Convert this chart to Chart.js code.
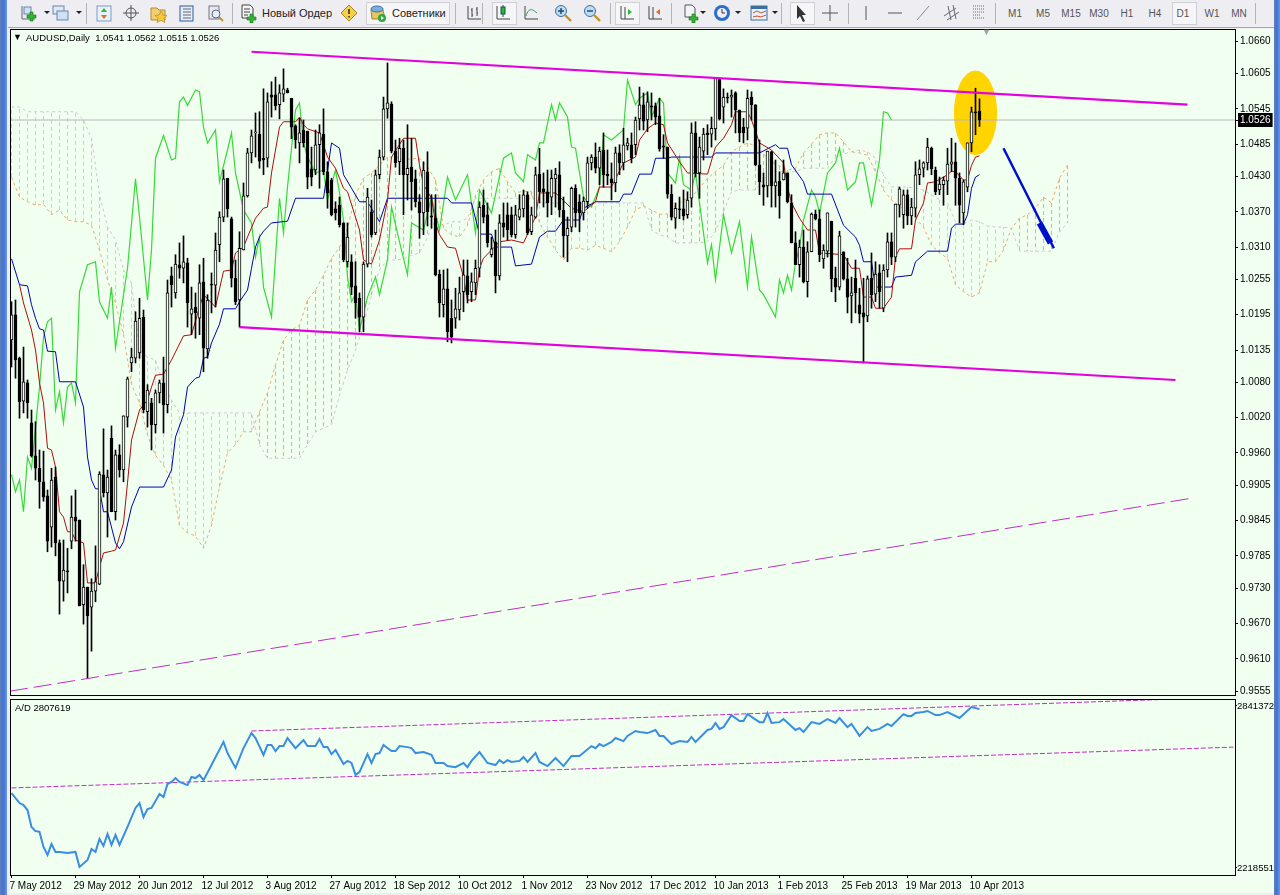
<!DOCTYPE html>
<html>
<head>
<meta charset="utf-8">
<title>AUDUSD,Daily</title>
<script src="https://cdn.jsdelivr.net/npm/chart.js@4/dist/chart.umd.min.js"></script>
<style>
  html, body { margin: 0; padding: 0; width: 1280px; height: 895px; overflow: hidden; background: #eeeef0; font-family: "Liberation Sans", sans-serif; }
  #toolbar { position: absolute; left: 8px; top: 0; width: 1266px; height: 27px; background: #eeeef2; border-bottom: 1px solid #a8a8a8; }
  .strip { position: absolute; top: 0; height: 895px; background: linear-gradient(90deg, #5f7fb5, #3f74d6 50%, #6d96e4); }
  #paper { position: absolute; left: 10px; top: 29px; width: 1264px; height: 864px; background: #f0fff0; }
  canvas { position: absolute; left: 0; }
  .label { position: absolute; font-size: 9.5px; color: #000; white-space: pre; z-index: 5; }
  .tool { position: absolute; top: 4px; }
  .sep { position: absolute; top: 3px; width: 1px; height: 21px; background: #b4b4b8; }
  .txt { position: absolute; top: 7px; font-size: 11px; color: #222; white-space: pre; }
  .tf { position: absolute; top: 8px; font-size: 10px; color: #555; white-space: pre; transform: translateX(-50%); }
  .pressed { position: absolute; top: 2px; height: 23px; background: #f6f6f8; border: 1px solid #d0d0d4; box-sizing: border-box; }
</style>
</head>
<body>
<div class="strip" style="left:0;width:7px"></div>
<div class="strip" style="left:1274px;width:6px"></div>
<div id="toolbar"></div>
<div id="paper"></div>
<canvas id="priceChart" width="1280" height="697" style="top:0;width:1280px;height:697px"></canvas>
<canvas id="adChart" width="1280" height="198" style="top:697px;width:1280px;height:198px"></canvas>
<div class="label" style="left:13px;top:32px;font-size:9px">▼</div>
<div class="label" style="left:26px;top:32px">AUDUSD,Daily  1.0541 1.0562 1.0515 1.0526</div>
<div class="label" style="left:15px;top:702px">A/D 2807619</div>
<div class="label" style="left:982px;top:27px;color:#a0a0a0;font-size:9px">▼</div>
<script>
// prices are in 1/10000 (10526 = 1.0526)
const priceTickLabels = ['1.0660', '1.0605', '1.0545', '1.0485', '1.0430', '1.0370', '1.0310', '1.0255', '1.0195', '1.0135', '1.0080', '1.0020', '0.9960', '0.9905', '0.9845', '0.9785', '0.9730', '0.9670', '0.9610', '0.9555'];
const lastPrice = 10526;
const dateLabels = ['7 May 2012', '29 May 2012', '20 Jun 2012', '12 Jul 2012', '3 Aug 2012', '27 Aug 2012', '18 Sep 2012', '10 Oct 2012', '1 Nov 2012', '23 Nov 2012', '17 Dec 2012', '10 Jan 2013', '1 Feb 2013', '25 Feb 2013', '19 Mar 2013', '10 Apr 2013'];
const adTicks = [2841372, 2218551];

const candleOpen = [10152,10195,10121,10048,10079,10011,9955,9934,9911,9887,
  9834,9919,9807,9742,9759,9810,9851,9846,9702,9732,
  9698,9725,9737,9923,9892,9985,9860,9957,9931,10021,
  10113,10121,10130,10191,10030,10045,10008,10062,10079,10042,
  10261,10232,10280,10274,10283,10196,10208,10189,10251,10137,
  10247,10245,10314,10361,10427,10358,10257,10220,10305,10397,
  10470,10504,10502,10461,10461,10569,10569,10552,10570,10577,
  10563,10516,10487,10509,10507,10443,10441,10484,10502,10438,
  10424,10375,10381,10351,10285,10285,10244,10223,10191,10281,
  10370,10334,10433,10463,10545,10553,10473,10455,10478,10433,
  10446,10426,10387,10368,10438,10363,10359,10264,10212,10239,
  10189,10189,10203,10234,10261,10234,10249,10274,10381,10365,
  10297,10319,10261,10351,10365,10365,10331,10361,10375,10399,
  10336,10361,10434,10409,10404,10395,10426,10433,10373,10329,
  10344,10410,10387,10368,10387,10453,10463,10444,10475,10434,
  10426,10419,10470,10453,10482,10484,10484,10528,10552,10526,
  10550,10550,10533,10482,10480,10400,10359,10375,10375,10365,
  10393,10504,10436,10473,10504,10502,10511,10597,10548,10565,
  10565,10572,10543,10514,10512,10565,10552,10450,10416,10414,
  10472,10414,10422,10424,10436,10385,10317,10280,10310,10251,
  10302,10366,10358,10290,10303,10354,10257,10242,10302,10256,
  10227,10257,10212,10198,10193,10257,10230,10266,10206,10271,
  10319,10293,10381,10365,10399,10363,10376,10433,10444,10453,
  10478,10441,10407,10416,10422,10451,10455,10427,10368,10412,
  10487,10540,10541];
const candleHigh = [10217,10220,10123,10140,10084,10033,10013,9965,9963,9897,
  9934,9936,9812,9812,9798,9887,9897,9846,9770,9732,
  9746,9802,9928,10001,9931,10006,9965,9974,10023,10089,
  10138,10200,10223,10203,10076,10053,10067,10084,10123,10254,
  10276,10297,10317,10329,10291,10242,10232,10280,10291,10229,
  10266,10334,10370,10441,10427,10361,10288,10336,10419,10478,
  10509,10538,10540,10579,10572,10591,10599,10586,10613,10580,
  10563,10518,10529,10526,10507,10480,10509,10518,10545,10455,
  10427,10387,10395,10351,10351,10297,10285,10232,10285,10410,
  10390,10441,10475,10565,10623,10557,10492,10495,10492,10518,
  10495,10441,10399,10455,10472,10399,10399,10271,10271,10273,
  10220,10240,10259,10288,10288,10266,10288,10387,10407,10385,
  10327,10339,10365,10385,10385,10378,10381,10399,10407,10404,
  10378,10446,10478,10436,10441,10441,10444,10455,10395,10361,
  10412,10416,10399,10395,10463,10467,10487,10480,10504,10475,
  10453,10480,10484,10512,10495,10504,10531,10582,10572,10574,
  10572,10555,10563,10501,10480,10416,10385,10395,10407,10404,
  10521,10523,10497,10512,10518,10531,10597,10597,10579,10572,
  10577,10574,10543,10529,10577,10574,10552,10492,10436,10473,
  10473,10458,10438,10458,10436,10399,10336,10322,10339,10319,
  10368,10373,10373,10314,10368,10354,10276,10337,10302,10291,
  10259,10288,10240,10257,10261,10300,10285,10280,10280,10334,
  10334,10383,10412,10407,10407,10393,10455,10458,10455,10495,
  10480,10446,10429,10429,10478,10495,10487,10436,10424,10487,
  10548,10580,10562];
const candleLow = [10106,10087,10019,10028,10019,9953,9914,9866,9878,9792,
  9800,9785,9686,9708,9722,9797,9810,9700,9669,9577,
  9623,9707,9736,9885,9817,9860,9846,9919,9911,10004,
  10098,10113,10121,10028,10004,9965,9994,10045,9994,10028,
  10208,10223,10257,10249,10174,10161,10155,10161,10098,10121,
  10198,10208,10285,10353,10361,10242,10212,10174,10305,10395,
  10453,10463,10444,10433,10446,10531,10543,10528,10557,10572,
  10494,10478,10453,10480,10409,10414,10433,10410,10433,10376,
  10363,10356,10344,10285,10276,10229,10189,10166,10166,10276,
  10327,10331,10426,10458,10529,10470,10446,10433,10365,10390,
  10373,10378,10325,10331,10346,10342,10261,10191,10191,10149,
  10147,10172,10186,10200,10215,10217,10229,10259,10351,10310,
  10293,10232,10254,10327,10322,10327,10325,10356,10361,10331,
  10331,10359,10385,10378,10361,10365,10378,10361,10293,10285,
  10336,10344,10336,10356,10376,10441,10436,10416,10412,10416,
  10390,10404,10433,10441,10475,10453,10467,10509,10509,10506,
  10526,10518,10473,10461,10393,10356,10342,10358,10356,10359,
  10378,10429,10393,10458,10467,10480,10492,10526,10521,10555,
  10531,10504,10489,10487,10492,10526,10448,10399,10381,10395,
  10378,10378,10359,10424,10385,10317,10280,10259,10249,10225,
  10302,10356,10285,10274,10293,10234,10217,10237,10254,10198,
  10181,10198,10181,10113,10183,10206,10217,10206,10200,10259,
  10280,10285,10361,10342,10348,10348,10361,10416,10429,10441,
  10433,10399,10399,10381,10399,10438,10381,10351,10348,10404,
  10472,10501,10515];
const candleClose = [10195,10118,10047,10081,10045,9955,9934,9911,9885,9810,
  9914,9807,9742,9761,9758,9851,9844,9700,9732,9683,
  9725,9741,9924,9892,9919,9860,9957,9931,10023,10086,
  10123,10184,10189,10033,10067,10008,10062,10079,10042,10232,
  10246,10281,10274,10285,10215,10205,10198,10249,10138,10220,
  10245,10305,10361,10426,10375,10257,10217,10308,10397,10470,
  10499,10506,10456,10458,10557,10565,10550,10572,10579,10572,
  10514,10492,10504,10487,10429,10429,10484,10504,10438,10402,
  10365,10368,10348,10288,10327,10242,10215,10191,10281,10395,
  10331,10433,10463,10545,10555,10473,10453,10478,10433,10444,
  10421,10387,10368,10441,10370,10361,10263,10215,10239,10166,
  10157,10205,10232,10263,10229,10251,10274,10378,10361,10317,
  10307,10261,10351,10344,10339,10331,10365,10375,10399,10334,
  10365,10433,10404,10404,10385,10427,10434,10373,10329,10342,
  10410,10368,10368,10388,10453,10463,10444,10473,10433,10431,
  10419,10470,10453,10484,10487,10461,10526,10552,10524,10557,
  10548,10531,10477,10480,10400,10361,10376,10373,10363,10390,
  10504,10436,10480,10502,10501,10512,10597,10528,10565,10563,
  10568,10543,10504,10504,10563,10552,10450,10421,10412,10473,
  10414,10421,10397,10436,10387,10317,10280,10310,10251,10302,
  10366,10358,10297,10305,10368,10256,10242,10329,10256,10225,
  10232,10232,10196,10191,10256,10229,10264,10234,10271,10319,
  10293,10383,10409,10399,10363,10378,10433,10443,10453,10480,
  10443,10404,10417,10424,10451,10455,10427,10381,10421,10487,
  10540,10538,10526];

// blue line
const kijunBars = [0,2,4,5,6,7,8,9,11,12,16,18,19,20,21,22,23,24,26,27,28,30,32,38,40,41,43,44,46,47,48,49,50,52,53,56,57,59,60,61,62,63,65,69,71,78,80,82,83,85,87,89,92,94,109,110,115,117,120,121,125,126,130,132,134,136,138,142,143,146,152,153,155,157,160,161,164,165,175,176,187,191,192,194,195,198,199,205,208,211,212,213,215,216,220,221,225,226,229,234,235,236,238,239,240,241,242];
const kijunValues = [10290,10246,10244,10212,10189,10171,10169,10133,10132,10081,10081,10038,9953,9914,9899,9899,9860,9860,9807,9797,9809,9868,9902,9902,9931,9987,10025,10072,10087,10089,10121,10123,10147,10179,10205,10205,10217,10237,10274,10310,10327,10337,10351,10354,10393,10393,10487,10478,10433,10410,10387,10387,10353,10393,10393,10385,10385,10332,10332,10310,10310,10278,10281,10327,10337,10337,10356,10356,10376,10387,10387,10400,10400,10434,10434,10461,10461,10463,10463,10470,10470,10484,10478,10478,10450,10421,10400,10400,10347,10327,10313,10285,10285,10242,10242,10259,10262,10285,10303,10303,10342,10349,10349,10365,10410,10429,10433];
// red line
const tenkanBars = [2,3,5,6,7,8,9,10,11,12,13,14,15,16,18,19,21,22,23,25,26,28,29,30,32,34,35,36,38,40,43,45,47,48,51,53,55,56,58,59,61,63,64,65,67,68,71,72,73,74,77,79,81,83,84,87,88,90,92,94,95,98,101,102,103,105,106,107,109,111,113,114,116,117,118,120,122,125,128,130,131,132,136,140,143,146,147,150,153,156,157,159,161,163,164,167,169,174,176,178,180,181,184,185,187,190,193,194,195,197,199,201,202,208,210,212,213,215,216,218,220,221,222,225,226,228,229,231,234,235,236,238,239,240,241,242];
const tenkanValues = [10246,10215,10169,10135,10079,10045,9968,9965,9936,9860,9851,9826,9826,9812,9807,9739,9739,9766,9790,9793,9795,9841,9909,9982,10033,10050,10072,10092,10094,10118,10159,10161,10208,10229,10208,10269,10271,10300,10310,10327,10359,10376,10378,10436,10514,10523,10523,10531,10518,10511,10504,10463,10444,10410,10404,10339,10288,10281,10322,10390,10463,10495,10495,10449,10416,10393,10351,10331,10310,10308,10259,10220,10220,10274,10291,10305,10319,10322,10317,10347,10361,10402,10402,10376,10370,10387,10412,10412,10453,10463,10492,10511,10521,10518,10487,10455,10436,10434,10480,10495,10518,10540,10540,10526,10487,10475,10453,10412,10385,10359,10339,10339,10300,10297,10274,10274,10225,10225,10206,10206,10225,10293,10307,10307,10356,10385,10419,10421,10433,10439,10438,10424,10424,10449,10463,10465];
// green line
const chikouBars = [0,1,2,3,4,5,7,8,9,10,11,12,13,14,15,16,17,19,21,22,24,25,26,29,31,32,34,35,36,38,40,41,42,43,44,46,47,48,49,51,52,54,55,56,58,60,61,62,63,65,67,68,69,71,72,73,74,76,78,79,81,82,83,84,85,86,87,89,91,92,94,95,97,99,100,103,105,107,109,111,114,116,117,120,123,125,126,128,129,131,132,133,135,136,137,139,140,141,143,145,147,148,150,153,154,156,157,159,160,162,163,164,166,167,168,170,171,173,174,175,176,178,180,182,184,185,187,188,191,192,193,194,195,196,197,198,200,201,202,204,206,207,209,211,212,213,215,217,218,219,220];
const chikouValues = [9923,9894,9914,9860,9953,9934,10072,10157,10183,10189,10033,10064,10011,10072,10079,10045,10234,10280,10285,10217,10189,10242,10138,10274,10426,10361,10220,10305,10461,10500,10458,10461,10557,10565,10551,10577,10574,10514,10487,10509,10421,10475,10504,10436,10373,10351,10293,10327,10242,10191,10393,10334,10412,10543,10555,10487,10463,10436,10441,10390,10441,10402,10356,10259,10217,10229,10169,10225,10259,10229,10288,10378,10319,10263,10351,10339,10395,10339,10429,10390,10433,10334,10407,10368,10461,10470,10436,10421,10467,10458,10487,10487,10552,10526,10555,10531,10480,10478,10395,10378,10412,10501,10492,10509,10594,10552,10563,10572,10531,10563,10555,10436,10419,10463,10416,10407,10436,10334,10283,10314,10254,10365,10300,10353,10242,10327,10237,10229,10191,10254,10232,10262,10237,10283,10310,10356,10407,10395,10368,10436,10453,10478,10407,10421,10453,10453,10381,10458,10540,10538,10526];

// cloud edges, one reading per two bars, first bar = 0
const senkouA = [10429,10395,10387,10381,10383,10365,10373,10356,10353,10353,
  10347,10305,10254,10215,10161,10076,10045,9990,9956,9939,
  9914,9837,9824,9819,9798,9837,9902,9960,9974,9996,
  9996,10030,10062,10110,10152,10169,10177,10220,10237,10262,
  10291,10310,10342,10398,10427,10436,10449,10463,10463,10458,
  10460,10461,10446,10424,10342,10331,10327,10347,10398,10424,
  10438,10444,10421,10402,10405,10404,10351,10327,10305,10288,
  10308,10308,10305,10313,10308,10302,10319,10344,10373,10380,
  10373,10366,10366,10381,10390,10395,10410,10427,10438,10449,
  10472,10480,10487,10482,10468,10455,10448,10441,10444,10470,
  10485,10501,10504,10504,10489,10472,10470,10466,10438,10407,
  10390,10380,10370,10359,10344,10313,10300,10291,10246,10234,
  10225,10232,10285,10285,10305,10342,10359,10365,10376,10395,10385,10427,10449];
const senkouB = [10548,10548,10540,10540,10540,10540,10540,10540,10540,10526,
  10495,10399,10344,10322,10271,10249,10135,10123,10118,10077,
  10050,10028,10028,10028,10028,10028,10028,10028,10028,10028,
  10028,9974,9951,9951,9951,9951,9951,9974,9996,10002,
  10008,10058,10101,10135,10177,10228,10271,10288,10288,10290,
  10296,10300,10327,10356,10347,10353,10353,10359,10393,10393,
  10393,10393,10393,10393,10393,10393,10385,10385,10385,10385,
  10385,10385,10385,10385,10385,10385,10385,10385,10385,10385,
  10339,10331,10327,10317,10317,10317,10317,10319,10336,10370,
  10404,10407,10407,10407,10424,10438,10439,10438,10438,10444,
  10444,10444,10444,10463,10468,10472,10475,10472,10461,10433,
  10412,10412,10412,10410,10407,10399,10390,10385,10353,10349,
  10356,10353,10346,10344,10344,10342,10303,10303,10303,10303,10303,10336,10351];

// hand-drawn objects: bars and prices of their end points
const upperChannelBars = [60, 294], upperChannelValues = [10642, 10552];
const lowerChannelBars = [57, 291], lowerChannelValues = [10174, 10084];
const supportBars = [-0.375, 295], supportValues = [9555, 9883];
const arrowBars = [248, 260.6], arrowValues = [10478, 10308];
const arrowHeadBars = [257, 259.75], arrowHeadValues = [10351, 10317];
const ellipseBar = 241, ellipseValue = 10538, ellipseBarRadius = 5.4, ellipsePriceRadius = 72;

// A/D in thousands
const adBars = [0,2,3,4,5,6,7,8,9,10,11,12,14,16,17,19,20,21,22,23,24,25,26,27,29,31,32,33,34,35,37,38,39,40,41,42,44,45,46,47,48,50,53,54,56,58,60,61,63,64,65,66,67,68,69,71,73,74,76,77,78,79,80,81,83,84,85,86,87,89,90,91,92,93,95,96,97,99,100,101,103,105,106,108,109,111,113,114,115,117,119,121,122,123,124,125,127,128,129,131,132,134,136,138,140,142,145,146,147,148,150,151,153,154,156,157,159,161,162,163,165,167,169,170,171,174,175,176,177,178,180,182,183,184,187,188,189,190,192,193,196,197,198,200,202,204,206,207,209,210,212,214,215,217,219,220,223,224,225,226,228,229,231,232,234,237,240,242];
const adValues = [2506,2468,2460,2441,2376,2360,2357,2299,2268,2310,2280,2280,2276,2280,2222,2249,2291,2280,2330,2303,2349,2307,2345,2307,2376,2449,2468,2414,2445,2449,2503,2491,2541,2549,2564,2549,2537,2568,2564,2576,2556,2614,2703,2660,2603,2679,2737,2718,2653,2691,2691,2668,2687,2687,2718,2679,2710,2687,2687,2714,2683,2683,2656,2672,2618,2630,2622,2576,2587,2656,2622,2656,2660,2691,2668,2668,2687,2683,2679,2660,2664,2653,2622,2622,2610,2606,2622,2606,2630,2664,2622,2614,2633,2622,2633,2626,2630,2645,2626,2660,2626,2610,2641,2610,2649,2649,2687,2679,2695,2687,2703,2718,2706,2726,2745,2741,2737,2749,2726,2726,2695,2706,2703,2722,2703,2749,2753,2776,2753,2760,2806,2783,2783,2810,2779,2779,2814,2776,2779,2791,2749,2756,2741,2779,2772,2791,2776,2795,2760,2772,2726,2760,2745,2753,2772,2764,2810,2803,2803,2814,2818,2822,2806,2806,2818,2795,2837,2829];
const adUpperBars = [60, 291], adUpperValues = [2745, 2868];
const adLowerBars = [0, 305.5], adLowerValues = [2526, 2683];

const BG = '#f0fff0';
const FONT = { family: '"Liberation Sans", sans-serif', size: 10 };
const X_MIN = -0.375, X_MAX = 305.875;

function pairs(bars, values, k = 1) {
  return bars.map((b, i) => ({ x: b, y: values[i] * k }));
}

function lineSet(data, color, width, order, dash) {
  return { type: 'line', data, borderColor: color, backgroundColor: color, borderWidth: width, borderDash: dash || [], pointRadius: 0, tension: 0, order, spanGaps: false };
}

// keep the plot rectangle exact: no room reserved for overhanging tick labels
function noOverhang(s) {
  s.paddingTop = 0;
  s.paddingBottom = 0;
  s.paddingLeft = 0;
  s.paddingRight = 0;
}

// vertical dotted columns between the two cloud edges, every second bar
function cloudColumns(wanted) {
  const pts = [];
  senkouA.forEach((a, k) => {
    const b = senkouB[k];
    if ((a > b) === wanted) {
      pts.push({ x: k * 2, y: a }, { x: k * 2, y: b }, { x: k * 2, y: null });
    }
  });
  return pts;
}

const wicks = candleHigh.map((h, i) => ({ x: i, y: [candleLow[i], h] }));
const bodies = candleOpen.map((o, i) => ({ x: i, y: [o, candleClose[i]] }));
const bodyFill = candleOpen.map((o, i) => (candleClose[i] >= o ? BG : '#000'));
const edgeBars = senkouA.map((_, k) => k * 2);

const ellipsePlugin = {
  id: 'ellipse',
  beforeDatasetsDraw(chart) {
    const { x, y } = chart.scales;
    const c = chart.ctx;
    c.save();
    c.fillStyle = '#ffd400';
    c.beginPath();
    c.ellipse(x.getPixelForValue(ellipseBar), y.getPixelForValue(ellipseValue),
      x.getPixelForValue(ellipseBar + ellipseBarRadius) - x.getPixelForValue(ellipseBar),
      y.getPixelForValue(ellipseValue - ellipsePriceRadius) - y.getPixelForValue(ellipseValue),
      0, 0, Math.PI * 2);
    c.fill();
    c.restore();
  },
};

const framePlugin = {
  id: 'frame',
  afterDraw(chart) {
    const a = chart.chartArea, c = chart.ctx;
    c.save();
    c.strokeStyle = '#000';
    c.lineWidth = 1;
    c.strokeRect(a.left + 0.5, a.top + 0.5, a.right - a.left, a.bottom - a.top);
    c.restore();
  },
};

new Chart(document.getElementById('priceChart'), {
  type: 'bar',
  data: {
    datasets: [
      lineSet(cloudColumns(true), '#eab27a', 1.1, 50, [4, 3]),
      lineSet(cloudColumns(false), '#d6cad6', 1.1, 50, [4, 3]),
      lineSet(pairs(edgeBars, senkouA), '#e8ac72', 1, 49, [3, 3]),
      lineSet(pairs(edgeBars, senkouB), '#d2c6d2', 1, 49, [3, 3]),
      lineSet([{ x: X_MIN, y: lastPrice }, { x: X_MAX, y: lastPrice }], '#b8b8b8', 1, 48),
      lineSet(pairs(chikouBars, chikouValues), '#38d838', 1.2, 40),
      lineSet(pairs(kijunBars, kijunValues), '#0000b0', 1, 39),
      lineSet(pairs(tenkanBars, tenkanValues), '#b00c0c', 1, 38),
      { type: 'bar', data: wicks, grouped: false, barThickness: 1, backgroundColor: '#000', order: 20 },
      { type: 'bar', data: bodies, grouped: false, barThickness: 3, minBarLength: 1, backgroundColor: bodyFill, borderColor: '#000', borderWidth: 1, borderSkipped: false, order: 19 },
      lineSet(pairs(supportBars, supportValues), '#c42cc8', 1, 5, [18, 6]),
      lineSet(pairs(upperChannelBars, upperChannelValues), '#e400e0', 2.2, 4),
      lineSet(pairs(lowerChannelBars, lowerChannelValues), '#e400e0', 2.2, 4),
      lineSet(pairs(arrowBars, arrowValues), '#0010c8', 2.5, 3),
      lineSet(pairs(arrowHeadBars, arrowHeadValues), '#0010c8', 6, 3),
    ],
  },
  options: {
    responsive: false,
    animation: false,
    devicePixelRatio: 1,
    layout: { padding: { left: 10, top: 29, bottom: 2, right: 0 } },
    plugins: { legend: { display: false }, tooltip: { enabled: false } },
    scales: {
      x: { type: 'linear', min: X_MIN, max: X_MAX, display: false, offset: false, afterFit: noOverhang },
      y: {
        position: 'right',
        min: 9548.5,
        max: 10680.7,
        border: { display: false },
        grid: { drawOnChartArea: false, tickLength: 3, color: '#000' },
        afterFit(s) { s.width = 45; noOverhang(s); },
        afterBuildTicks(s) {
          s.ticks = priceTickLabels.map((t) => ({ value: Math.round(Number(t) * 10000) })).concat({ value: lastPrice });
        },
        ticks: {
          autoSkip: false,
          padding: 2,
          font: FONT,
          callback: (v) => (v / 10000).toFixed(4),
          color: (ctx) => (ctx.tick && ctx.tick.value === lastPrice ? '#fff' : '#000'),
          showLabelBackdrop: (ctx) => !!(ctx.tick && ctx.tick.value === lastPrice),
          backdropColor: '#000',
          backdropPadding: { x: 2, y: 1 },
        },
      },
    },
  },
  plugins: [ellipsePlugin, framePlugin],
});

new Chart(document.getElementById('adChart'), {
  type: 'line',
  data: {
    datasets: [
      lineSet(pairs(adUpperBars, adUpperValues, 1000), '#c42cc8', 1, 5, [5, 2]),
      lineSet(pairs(adLowerBars, adLowerValues, 1000), '#c42cc8', 1, 5, [5, 2]),
      lineSet(pairs(adBars, adValues, 1000), '#3a8ee0', 2, 1),
    ],
  },
  options: {
    responsive: false,
    animation: false,
    devicePixelRatio: 1,
    layout: { padding: { left: 10, top: 2, bottom: 0, right: 0 } },
    plugins: { legend: { display: false }, tooltip: { enabled: false } },
    scales: {
      x: {
        type: 'linear',
        min: X_MIN,
        max: X_MAX,
        border: { display: false },
        grid: { drawOnChartArea: false, tickLength: 3, color: '#000' },
        afterFit(s) { s.height = 20; noOverhang(s); },
        afterBuildTicks(s) { s.ticks = dateLabels.map((_, i) => ({ value: i * 16 })); },
        ticks: {
          autoSkip: false,
          maxRotation: 0,
          align: 'start',
          labelOffset: -2,
          padding: 2,
          font: FONT,
          color: '#000',
          callback: (v) => dateLabels[v / 16],
        },
      },
      y: {
        position: 'right',
        min: 2191200,
        max: 2868000,
        border: { display: false },
        grid: { drawOnChartArea: false, tickLength: 2, color: '#000' },
        afterFit(s) { s.width = 45; noOverhang(s); },
        afterBuildTicks(s) { s.ticks = adTicks.map((v) => ({ value: v })); },
        ticks: { autoSkip: false, padding: 0, font: { family: FONT.family, size: 9.5 }, color: '#000', callback: (v) => String(v) },
      },
    },
  },
  plugins: [framePlugin],
});

// toolbar
const toolbar = document.getElementById('toolbar');
const icons = {
  chartPlus: '<path d="M3 2v13h13" fill="none" stroke="#667"/><rect x="5" y="3" width="7" height="7" fill="#cfe0f4" stroke="#68a"/><path d="M11 8h3v3h3v3h-3v3h-3v-3H8v-3h3z" fill="#2fb82f" stroke="#176f17" stroke-width=".6"/>',
  charts: '<rect x="2" y="2" width="11" height="8" fill="#dfe8f6" stroke="#68a"/><rect x="6" y="7" width="11" height="9" fill="#cfe0f4" stroke="#68a"/>',
  updown: '<rect x="2" y="2" width="14" height="15" fill="#e8f0fa" stroke="#7a9cc6"/><path d="M9 4l3 4H6z" fill="#2fb82f"/><path d="M9 15l3-4H6z" fill="#d87020"/>',
  cross: '<circle cx="9" cy="9" r="5" fill="none" stroke="#555"/><path d="M9 1v16M1 9h16" stroke="#555"/>',
  star: '<path d="M2 4h6l2 2h6v10H2z" fill="#f2d070" stroke="#b08a30"/><path d="M12 7l2 4 4 .5-3 3 1 4-4-2-4 2 1-4-3-3 4-.5z" fill="#f6c93a" stroke="#a87f20" stroke-width=".6"/>',
  list: '<rect x="3" y="2" width="13" height="15" fill="#e6eefa" stroke="#2a5a9a"/><path d="M6 5h8M6 8h8M6 11h8M6 14h8" stroke="#667"/>',
  search: '<rect x="3" y="2" width="10" height="13" fill="#e6e6ee" stroke="#778"/><circle cx="10" cy="10" r="4" fill="#dfeefa" stroke="#667"/><path d="M13 13l4 4" stroke="#c89020" stroke-width="2"/>',
  order: '<path d="M3 1h8l3 3v10H3z" fill="#f4f4f4" stroke="#444"/><path d="M5 5h6M5 8h6M5 11h4" stroke="#444"/><path d="M11 10h3v3h3v3h-3v3h-3v-3H8v-3h3z" fill="#2fb82f" stroke="#176f17" stroke-width=".6"/>',
  warn: '<path d="M9 1l8 8-8 8-8-8z" fill="#f7d04a" stroke="#a88420"/><path d="M9 5v5M9 12v1.5" stroke="#333" stroke-width="1.6"/>',
  expert: '<path d="M2 6h12l2 9H3z" fill="#e8c560" stroke="#a88420"/><ellipse cx="8" cy="5" rx="6" ry="3" fill="#7ab0dc" stroke="#3a70a0"/><circle cx="13" cy="14" r="4" fill="#2fa83f"/><path d="M12 12l3 2-3 2z" fill="#fff"/>',
  bars: '<path d="M3 2v13h13M7 4v9M6 6h1M7 11h1M12 3v9M11 5h1M12 9h1" fill="none" stroke="#444"/>',
  candles: '<path d="M3 2v13h13" fill="none" stroke="#444"/><path d="M9 1v12" stroke="#155"/><rect x="7" y="3" width="4" height="7" fill="#2fb82f" stroke="#155"/>',
  curve: '<path d="M3 2v13h13" fill="none" stroke="#444"/><path d="M4 12c3-9 6-7 11-3" fill="none" stroke="#2a9a4a"/>',
  zoomIn: '<circle cx="7" cy="7" r="5.5" fill="#bcdcf4" stroke="#3a70a0"/><path d="M4 7h6M7 4v6" stroke="#246" stroke-width="1.4"/><path d="M11 11l6 6" stroke="#c89020" stroke-width="2.4"/>',
  zoomOut: '<circle cx="7" cy="7" r="5.5" fill="#bcdcf4" stroke="#3a70a0"/><path d="M4 7h6" stroke="#246" stroke-width="1.4"/><path d="M11 11l6 6" stroke="#c89020" stroke-width="2.4"/>',
  shift: '<path d="M3 2v13h13M7 3v12" fill="none" stroke="#444"/><path d="M10 5l4 3-4 3z" fill="#2fb82f"/>',
  scroll: '<path d="M3 2v13h13M7 3v12" fill="none" stroke="#444"/><path d="M14 5l-4 3 4 3z" fill="#e07020"/>',
  indicator: '<path d="M4 1h7l3 3v9H4z" fill="#f4f4f4" stroke="#556"/><path d="M11 10h3v3h3v3h-3v3h-3v-3H8v-3h3z" fill="#2fb82f" stroke="#176f17" stroke-width=".6"/>',
  clock: '<circle cx="9" cy="9" r="8" fill="#2a70c8"/><circle cx="9" cy="9" r="5" fill="#eef"/><path d="M9 5v4h3" fill="none" stroke="#333"/>',
  template: '<rect x="1" y="2" width="16" height="14" fill="#e8f0fa" stroke="#3a70a0"/><rect x="1" y="2" width="16" height="3" fill="#3a70a0"/><path d="M3 9l4-2 4 2 5-2M3 13l4-1 4 1 5-2" fill="none" stroke="#d05020"/>',
  pointer: '<path d="M5 1v14l3-3 3 6 2-1-3-6h4z" fill="#333"/>',
  plus: '<path d="M9 1v16M1 9h16" stroke="#555"/>',
  vline: '<path d="M9 2v14" stroke="#555"/>',
  hline: '<path d="M2 9h14" stroke="#555"/>',
  trend: '<path d="M3 16L15 2" stroke="#888"/>',
  channel: '<path d="M2 12L14 4M5 16L17 8M6 2l3 14M11 1l3 14" stroke="#667" fill="none"/>',
  fibo: '<path d="M3 2h12M3 5h12M3 8h12M3 11h8M3 14h12" stroke="#667" stroke-dasharray="1 1"/>',
};
const toolItems = [['chartPlus', 28], ['charts', 60], ['updown', 104], ['cross', 131], ['star', 158], ['list', 186], ['search', 215], ['order', 248], ['warn', 349], ['expert', 378], ['bars', 474], ['candles', 503], ['curve', 531], ['zoomIn', 563], ['zoomOut', 592], ['shift', 627], ['scroll', 655], ['indicator', 690], ['clock', 722], ['template', 759], ['pointer', 801], ['plus', 830], ['vline', 866], ['hline', 895], ['trend', 923], ['channel', 951], ['fibo', 979]];
const separators = [86, 232, 455, 482, 610, 671, 781, 848, 995, 1255];
const pressedButtons = [[366, 84], [492, 25], [790, 25], [1172, 25], [615, 25]];
const timeframes = [['M1', 1015], ['M5', 1043], ['M15', 1071], ['M30', 1099], ['H1', 1127], ['H4', 1155], ['D1', 1183], ['W1', 1212], ['MN', 1239]];
const dropArrows = [44, 76, 700, 735, 772];

let html = '';
pressedButtons.forEach(([x, w]) => { html += `<div class="pressed" style="left:${x - 8}px;width:${w}px"></div>`; });
separators.forEach((x) => { html += `<div class="sep" style="left:${x - 8}px"></div>`; });
toolItems.forEach(([name, x]) => {
  html += `<svg class="tool" style="left:${x - 17}px" width="18" height="19" viewBox="0 0 18 19">${icons[name]}</svg>`;
});
dropArrows.forEach((x) => {
  html += `<svg class="tool" style="left:${x - 8}px;top:11px" width="6" height="4"><path d="M0 0h6L3 3z" fill="#222"/></svg>`;
});
html += '<div class="txt" style="left:254px">Новый Ордер</div><div class="txt" style="left:384px">Советники</div>';
timeframes.forEach(([t, x]) => { html += `<div class="tf" style="left:${x - 8}px">${t}</div>`; });
toolbar.innerHTML = html;
</script>
</body>
</html>
